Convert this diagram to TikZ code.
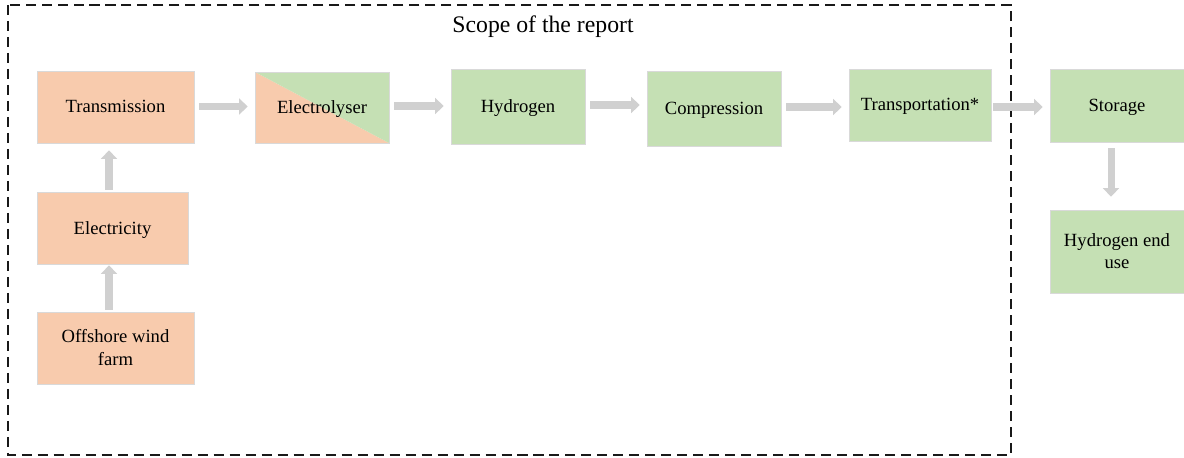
\documentclass[tikz,border=0pt]{standalone}
\usepackage{fontspec}
\setmainfont{Liberation Serif}
\usepackage{tikz}
\usetikzlibrary{calc, arrows.meta}
\definecolor{stageO}{RGB}{248,203,173}
\definecolor{stageG}{RGB}{197,224,180}
\definecolor{flowGrey}{RGB}{208,208,208}
\colorlet{edgeGrey}{black!15}
\tikzstyle{stage}=[rectangle, draw=edgeGrey, line width=0.4pt, align=center, font=\fontsize{10.6}{13}\selectfont, inner sep=2pt, text depth=0.5pt]
\tikzstyle{power}=[stage, fill=stageO]
\tikzstyle{gas}=[stage, fill=stageG]
\tikzstyle{flow}=[draw=flowGrey, line width=4pt, -{Triangle[length=4.8pt, width=9pt]}, shorten <=0.1cm, shorten >=0.14cm]

\begin{document}
\begin{tikzpicture}
				\useasboundingbox (0,0) rectangle (23.68,-9.14);

				% Scope of the report
				\draw[black!90, line width=0.85pt, dash pattern=on 5.7pt off 3.4pt] (0.16,-0.10) rectangle (20.22,-9.10);
				\node (scope) at (10.86,-0.53) {\fontsize{13.5}{16}\selectfont Scope of the report};

				% Electricity side
				\node[power, minimum width=3.14cm, minimum height=1.44cm] (wind) at (2.31,-6.96) {Offshore wind\\farm};
				\node[power, minimum width=3.02cm, minimum height=1.44cm] (elec) at (2.25,-4.56) {Electricity};
				\node[power, minimum width=3.14cm, minimum height=1.44cm] (trans) at (2.31,-2.14) {Transmission};

				% Electrolyser, half and half
				\node[stage, minimum width=2.68cm, minimum height=1.42cm, path picture={
						\fill[stageO] (path picture bounding box.north west) -- (path picture bounding box.south east) -- (path picture bounding box.south west) -- cycle;
						\fill[stageG] (path picture bounding box.north west) -- (path picture bounding box.north east) -- (path picture bounding box.south east) -- cycle;
					}] (elyser) at (6.44,-2.15) {Electrolyser};

				% Hydrogen side
				\node[gas, minimum width=2.68cm, minimum height=1.50cm] (hydro) at (10.36,-2.13) {Hydrogen};
				\node[gas, minimum width=2.68cm, minimum height=1.50cm] (comp) at (14.28,-2.17) {Compression};
				\node[gas, minimum width=2.84cm, minimum height=1.44cm] (transp) at (18.40,-2.10) {Transportation*};
				\node[gas, minimum width=2.68cm, minimum height=1.46cm] (store) at (22.34,-2.11) {Storage};
				\node[gas, minimum width=2.68cm, minimum height=1.66cm] (enduse) at (22.34,-5.03) {Hydrogen end\\use};

				% Flows
				\draw[flow, shorten <=0.04cm, shorten >=0.02cm] ($(wind.north)+(-0.13,0)$) -- ($(wind.north |- elec.south)+(-0.13,0)$);
				\draw[flow, shorten <=0.04cm] ($(elec.north)+(-0.07,0)$) -- ($(elec.north |- trans.south)+(-0.07,0)$);
				\draw[flow] ($(trans.east)+(0,0.01)$) -- ($(trans.east -| elyser.west)+(0,0.01)$);
				\foreach \a/\b in {elyser/hydro, hydro/comp, comp/transp}{
					\draw[flow] ($(\a.east)+(0,0.03)$) -- ($(\a.east -| \b.west)+(0,0.03)$);
				}
				\draw[flow, shorten <=0.04cm] ($(transp.east)+(0,-0.04)$) -- ($(transp.east -| store.west)+(0,-0.04)$);
				\draw[flow, shorten <=0.12cm, shorten >=0.26cm] ($(store.south)+(-0.12,0)$) -- ($(store.south |- enduse.north)+(-0.12,0)$);
			\end{tikzpicture}
\end{document}
